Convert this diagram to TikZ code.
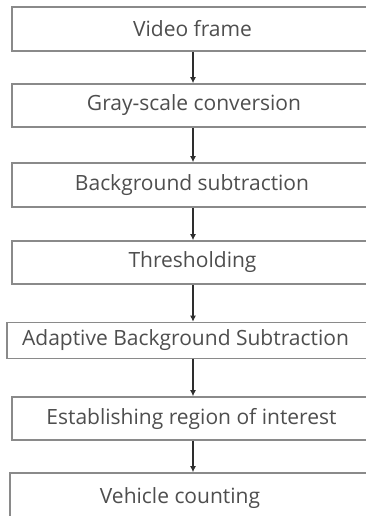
\documentclass[tikz,border=0pt]{standalone}
\usepackage{fontspec}
\setmainfont{Open Sans}
\usetikzlibrary{arrows.meta}
\definecolor{boxline}{HTML}{8A8A8A}
\definecolor{txtcol}{HTML}{4E4E4E}
\definecolor{arrcol}{HTML}{2E2E2E}
\tikzset{
  stepbox/.style={draw=boxline, line width=1.6pt, fill=white, text=txtcol,
    inner sep=0pt, font=\fontsize{21}{24}\selectfont},
  flow/.style={draw=arrcol, line width=1.3pt, -{Latex[length=6pt,width=6pt]}}
}
\newcommand{\shifttext}[2]{\hspace*{#1}#2}
\begin{document}
\begin{tikzpicture}[x=1pt,y=-1pt]
\useasboundingbox (0,0) rectangle (366,516);
\fill[white] (0,0) rectangle (366,516);
\clip (0,0) rectangle (366,516);
% boxes: centre x = 193
\node[stepbox, minimum width=362pt, minimum height=44pt] (b1) at (193,29) {\shifttext{-1pt}{Video frame}};
\node[stepbox, minimum width=362pt, minimum height=43pt] (b2) at (193,105.5) {\shifttext{2pt}{Gray-scale conversion}};
\node[stepbox, minimum width=362pt, minimum height=44pt] (b3) at (193,185) {\shifttext{-2pt}{Background subtraction}};
\node[stepbox, minimum width=362pt, minimum height=43pt] (b4) at (193,262.5) {\shifttext{-1pt}{Thresholding}};
\node[stepbox, minimum width=372pt, minimum height=36pt] (b5) at (193,340.5) {\shifttext{-15pt}{Adaptive Background Subtraction}};
\node[stepbox, minimum width=362pt, minimum height=43pt] (b6) at (193,418.5) {\shifttext{-3pt}{Establishing region of interest}};
\node[stepbox, minimum width=366pt, minimum height=50pt] (b7) at (193,498) {\shifttext{-26pt}{Vehicle counting}};
\draw[flow] (b1) -- (b2);
\draw[flow] (b2) -- (b3);
\draw[flow] (b3) -- (b4);
\draw[flow] (b4) -- (b5);
\draw[flow] (b5) -- (b6);
\draw[flow] (b6) -- (b7);
\end{tikzpicture}
\end{document}
